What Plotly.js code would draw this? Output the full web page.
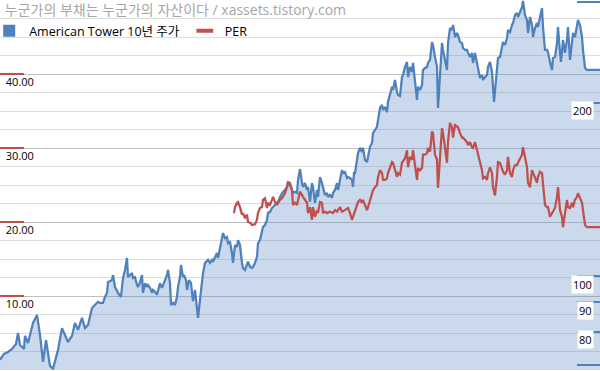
<!DOCTYPE html>
<html><head><meta charset="utf-8">
<script src="https://cdn.plot.ly/plotly-3.0.1.min.js"></script>
<style>html,body{margin:0;padding:0;background:#fff}#chart{width:600px;height:371px}</style>
</head><body><div id="chart"></div>
<script>
// time axis in months from start of the 10-year window
const months = [
0,0.8,1.6,2.4,3.2,3.6,4,4.8,5,5.6,
6.6,7.4,8,8.6,9.2,9.6,10,10.6,11.2,11.6,
12.4,13,13.6,14.4,15,15.6,16.4,17,17.6,18.4,
19,19.6,20,20.6,21,21.4,21.6,22.4,22.6,23,
23.6,24.2,24.4,24.6,25,25.4,25.6,26,26.4,26.6,
27,27.4,27.6,28,28.4,28.6,29,29.4,29.6,30,
30.4,30.6,31,31.4,32,32.4,32.6,33,33.4,33.6,
34,34.2,34.6,35,35.4,35.6,36,36.2,36.6,36.8,
37.2,37.4,37.8,38.2,38.6,39,39.4,39.6,40,40.4,
40.6,41,41.6,42,42.4,42.6,43,43.4,43.6,44,
44.4,44.6,45,45.4,45.6,46,46.4,46.6,47,47.4,
47.6,48,48.4,48.6,49,49.4,49.6,50,50.4,50.6,
51,51.4,51.6,52,52.4,52.6,53,53.4,53.6,54,
54.4,54.6,55,55.4,55.6,56,56.4,56.6,57,57.4,
57.6,58,58.4,58.6,59,59.4,59.6,60,60.4,60.6,
61,61.4,61.6,62,62.4,62.6,63,63.4,63.6,64,
64.4,64.6,65,65.4,65.6,66,66.4,66.6,67,67.4,
67.6,68,68.4,68.6,69,69.4,69.6,70,70.4,70.6,
70.8,71,71.4,71.6,72,72.4,72.6,73,73.4,73.6,
74,74.4,74.6,75,75.4,75.6,76,76.4,76.6,77,
77.4,77.6,78,78.4,78.6,79,79.4,79.6,80,80.4,
80.6,81,81.4,81.6,82,82.4,82.6,83,83.4,83.6,
84,84.4,84.6,85,85.4,85.6,86,86.4,86.6,87,
87.4,87.6,88,88.4,88.6,89,89.4,89.6,90,90.4,
90.6,91,91.4,91.6,92,92.4,92.6,93,93.4,93.6,
94,94.4,94.6,95,95.4,95.6,96,96.4,96.6,97,
97.4,97.6,98,98.4,98.6,98.8,99.2,99.6,100,100.4,
100.6,101,101.4,101.6,102,102.4,102.6,103,103.4,103.6,
104,104.4,104.6,105,105.4,105.6,106,106.4,106.6,107,
107.4,107.6,108,108.4,108.6,109,109.4,109.6,110,110.4,
110.6,111,111.4,111.6,112,112.2,112.6,113,113.4,113.6,
114,114.4,114.6,115,115.4,115.6,116,116.4,116.6,117,
117.4,120];
// American Tower share price (right, log axis)
const price = [
71.5,73.2,73.8,74.7,76.2,79.6,75.9,74.7,78.7,76.5,
82.9,85.6,79.0,70.9,77.4,72.9,69.8,69.0,72.6,74.4,
81.2,78.7,76.8,78.7,82.9,80.6,84.6,81.2,82.2,88.0,
89.1,90.2,89.8,89.8,92.0,93.5,97.6,98.4,100.4,95.7,
93.5,92.0,95.7,99.2,102.5,107.5,99.6,100.4,101.2,99.2,
99.6,96.5,95.7,97.6,100.4,93.5,97.2,95.7,96.5,95.4,
93.5,94.6,93.9,92.8,97.2,95.4,96.5,98.4,100.4,102.5,
97.2,89.1,89.8,89.1,92.0,95.7,99.6,104.6,99.6,100.4,
98.4,94.6,98.4,97.2,90.5,94.6,88.4,84.6,90.9,98.4,
101.2,105.4,106.7,105.4,106.7,105.9,108.0,109.7,107.5,112.4,
116.9,118.8,116.4,116.9,114.1,114.6,109.7,105.4,113.2,112.4,
115.5,113.2,105.4,103.3,102.5,105.4,105.9,103.8,103.3,103.8,
105.4,108.0,114.1,115.5,120.3,121.8,122.7,125.2,128.8,129.2,
131.3,131.8,133.0,134.1,134.6,137.3,139.5,140.1,141.2,142.9,
145.7,145.1,141.2,139.5,140.1,139.5,146.9,153.5,145.1,142.9,
145.1,141.2,142.9,134.6,145.1,142.9,134.1,141.2,137.3,148.7,
145.1,142.9,138.4,139.5,137.3,138.4,136.8,139.5,141.2,145.1,
141.2,146.9,152.9,151.1,151.7,148.1,148.7,148.1,146.9,142.9,
151.1,151.1,159.2,163.7,167.1,164.4,167.1,159.2,157.9,161.1,
167.8,170.4,177.3,179.5,181.7,186.8,196.0,198.4,194.5,196.8,
192.9,200.8,208.1,213.3,210.7,219.3,209.0,206.5,205.7,221.9,
223.7,231.1,235.7,221.9,231.1,226.5,234.8,219.3,202.4,213.3,
210.7,215.0,228.3,230.1,231.1,234.8,237.6,255.3,252.3,240.5,
231.1,196.0,221.9,254.3,247.3,235.7,228.3,254.3,270.0,267.9,
273.3,260.5,264.7,262.6,255.3,254.3,249.3,247.3,247.3,244.4,
240.5,244.4,234.8,244.4,235.7,230.1,221.1,223.7,219.3,221.9,
223.7,231.1,235.7,226.5,213.3,200.8,219.3,239.5,240.5,250.3,
255.3,252.3,259.5,267.9,265.7,273.3,275.5,284.4,286.7,282.1,
288.0,293.6,300.9,284.4,278.8,264.7,282.1,273.3,260.5,270.0,
275.5,271.1,282.1,292.5,271.1,247.3,247.3,245.3,235.7,228.3,
239.5,240.5,254.3,271.1,244.4,235.7,257.4,244.4,257.4,271.1,
237.6,260.5,264.7,260.5,271.1,278.8,273.3,260.5,247.3,230.1,
228.3,228.3];
// PER (left axis)
const perMonths = [
46.8,47,47.4,47.6,48,48.4,48.6,49,49.4,49.6,
50,50.4,51,51.4,51.6,52,52.4,52.6,53,53.4,
53.6,54,54.4,54.6,55,55.4,55.6,56,56.4,56.6,
57,57.4,57.6,58,58.4,58.6,59,59.4,59.6,60,
60.6,61,61.4,61.6,62,62.4,62.6,63,63.4,63.6,
64,64.4,64.6,65,65.4,66,66.6,67,67.4,68,
68.4,69,69.6,70,70.4,70.6,71,71.4,71.6,72,
72.4,72.6,73,73.4,73.6,74,74.4,74.6,75,75.4,
75.6,76,76.4,76.6,77,77.4,77.6,78,78.4,78.6,
79,79.4,79.6,80,80.4,81,81.4,81.6,82,82.4,
82.6,83,83.4,83.6,84,84.4,84.6,85,85.4,85.6,
86,86.4,86.6,87,87.4,87.6,88,88.4,88.6,89,
89.4,89.6,90,90.4,90.6,91,91.4,91.6,92,92.4,
92.6,93,93.4,93.6,94,94.4,94.6,95,95.4,95.6,
96,96.4,96.6,97,97.4,97.6,98,98.4,98.6,99,
99.4,99.6,100,100.4,100.6,101,101.4,101.6,102,102.4,
102.6,103,103.4,103.6,104,104.4,104.6,105,105.4,105.6,
106,106.4,106.6,107,107.4,107.6,108,108.4,108.6,109,
109.4,109.6,110,110.4,110.6,111,111.4,111.6,112,112.4,
112.6,113,113.4,113.6,114,114.4,114.6,115,115.4,115.6,
116,116.4,116.6,117,117.4,120];
const per = [
21.2,22.0,22.6,22.7,22.0,21.0,21.2,20.5,21.0,20.0,
19.9,19.6,19.7,20.3,21.2,21.9,22.0,23.0,23.2,21.9,
22.6,22.3,23.0,23.4,22.7,22.3,22.6,23.0,23.2,23.4,
23.9,24.7,25.4,25.0,24.3,22.3,22.6,22.3,23.0,24.1,
23.4,23.0,22.6,21.2,22.0,20.3,22.0,20.7,21.6,21.2,
22.7,22.6,21.2,21.4,21.2,21.4,21.2,21.6,21.4,22.0,
21.4,21.6,21.9,21.2,20.3,20.7,21.6,22.3,22.7,23.0,
22.6,23.0,22.3,21.6,22.0,23.0,23.9,24.3,24.7,25.0,
26.1,27.0,26.6,25.7,25.7,25.9,26.6,27.4,28.1,28.0,
27.0,26.1,26.6,26.4,28.0,28.6,29.7,27.4,28.8,28.4,
29.7,27.4,25.7,27.3,27.0,27.3,29.1,29.1,29.3,30.0,
29.5,32.2,32.0,29.1,28.4,24.6,28.6,32.7,32.0,30.1,
28.0,30.8,33.4,32.8,31.4,33.1,32.8,32.8,32.0,31.4,
31.4,31.1,30.8,30.4,30.8,30.1,30.0,30.8,29.7,29.1,
28.1,27.0,25.9,26.1,25.7,26.6,27.4,26.6,24.7,23.6,
26.1,28.1,28.0,27.3,26.8,26.4,27.0,28.8,26.6,26.1,
27.0,27.7,27.7,28.0,28.6,29.1,30.1,28.6,27.4,25.3,
24.7,27.0,26.6,25.9,25.3,26.1,26.8,26.6,25.3,22.3,
22.0,22.0,20.7,21.2,21.6,21.9,23.4,24.7,21.6,20.7,
19.3,20.9,23.0,22.0,21.9,22.6,22.0,23.0,23.4,23.9,
23.2,22.6,21.6,19.6,19.3,19.3];

const titleText = '누군가의 부채는 누군가의 자산이다 / xassets.tistory.com';
const seriesNames = ['American Tower 10년 주가', 'PER'];
const perTickVals = [0,10,20,30,40,50];
const perTickText = ['', '10.00', '20.00', '30.00', '40.00', ''];
const priceTickVals = [70,80,90,100,200,300];
const priceLabelVals = [80,90,100,200];
const priceLabelText = ['80','90','100','200'];

const BLUE = '#4F81BD', RED = '#C0504D';
const FONT = 'Open Sans, Noto Sans CJK KR, sans-serif';

const traces = [
  {x: months, y: price, type:'scatter', mode:'lines', yaxis:'y',
   line:{color:BLUE, width:2.25}, fill:'tozeroy', fillcolor:'rgba(79,129,189,0.3)',
   showlegend:false, hoverinfo:'skip'},
  {x: perMonths, y: per, type:'scatter', mode:'lines', yaxis:'y2',
   line:{color:RED, width:2.25}, showlegend:false, hoverinfo:'skip'},
  {x:[null], y:[null], type:'scatter', mode:'markers', yaxis:'y',
   marker:{symbol:'square', size:12, color:BLUE}, name: seriesNames[0]},
  {x:[null], y:[null], type:'scatter', mode:'markers', yaxis:'y2',
   marker:{symbol:'line-ew', size:12, line:{color:RED, width:4}}, name: seriesNames[1]}
];

const annotations = priceLabelVals.map((v,i)=>({
  xref:'paper', x:1, xanchor:'right', xshift:-6,
  yref:'y', y:Math.log10(v), yanchor:'middle', yshift:-8,
  text: priceLabelText[i], showarrow:false, bgcolor:'#ffffff', borderpad:1,
  font:{family:FONT, size:11, color:'#000'}
}));

const layout = {
  width:600, height:371,
  margin:{l:0, r:0, t:0, b:1, pad:0, autoexpand:false},
  paper_bgcolor:'#fff', plot_bgcolor:'#fff',
  title:{text:titleText, x:0.008, xanchor:'left', xref:'paper', y:0.972, yanchor:'middle',
         font:{family:FONT, size:14, color:'#a6a6a6'}},
  showlegend:true,
  legend:{orientation:'h', x:-0.018, xanchor:'left', y:0.916, yanchor:'middle',
          bgcolor:'rgba(0,0,0,0)', font:{family:FONT, size:12.5, color:'#000'},
          itemwidth:30},
  xaxis:{range:[0,120], showgrid:false, zeroline:false, showticklabels:false,
         ticks:'', showline:false, fixedrange:true, automargin:false},
  yaxis:{type:'log', side:'right', range:[Math.log10(68.65), Math.log10(302.1)],
         showgrid:false, zeroline:false, showline:false, showticklabels:false, automargin:false,
         tickmode:'array', tickvals:priceTickVals, ticks:'inside', ticklen:23,
         tickwidth:2, tickcolor:BLUE},
  yaxis2:{overlaying:'y', side:'left', range:[0,50], showline:false, zeroline:false, automargin:false,
          tickmode:'array', tickvals:perTickVals, ticktext:perTickText,
          ticks:'inside', ticklen:24, tickwidth:2, tickcolor:RED,
          ticklabelposition:'inside', ticklabelshift:8, ticklabelstandoff:-19,
          tickfont:{family:FONT, size:11, color:'#000'},
          showgrid:true, gridcolor:'#c0c0c0', gridwidth:1,
          minor:{tickmode:'linear', tick0:0, dtick:2.5, showgrid:true, gridcolor:'#dedede', gridwidth:1, ticks:''}},
  annotations: annotations
};
Plotly.newPlot('chart', traces, layout, {displayModeBar:false, staticPlot:true});
</script></body></html>
